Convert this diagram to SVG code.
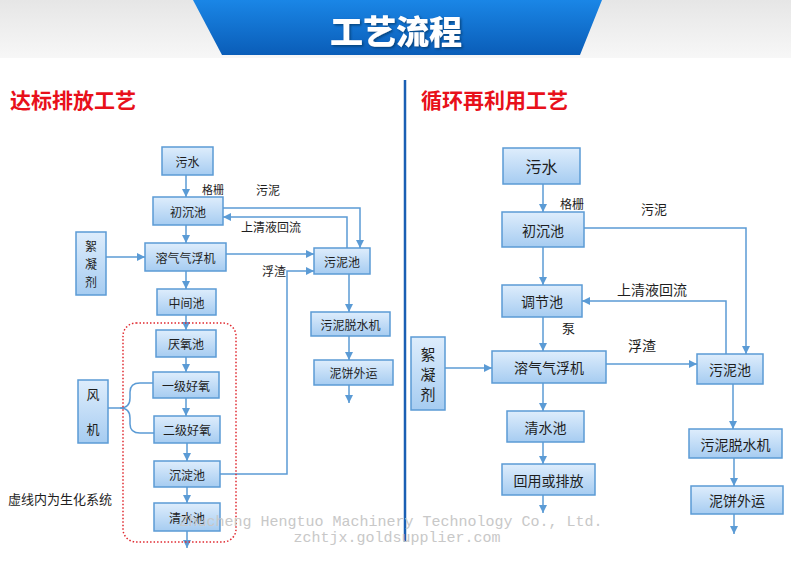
<svg xmlns="http://www.w3.org/2000/svg" width="791" height="571" viewBox="0 0 791 571">
<defs>
<linearGradient id="hdr" x1="0" y1="0" x2="0" y2="1"><stop offset="0" stop-color="#e6e6e6"/><stop offset="1" stop-color="#f7f7f7"/></linearGradient>
<linearGradient id="ban" x1="0" y1="0" x2="0" y2="1"><stop offset="0" stop-color="#1a86e6"/><stop offset="1" stop-color="#0a5db8"/></linearGradient>
<linearGradient id="bx" x1="0" y1="0" x2="0" y2="1"><stop offset="0" stop-color="#deedfc"/><stop offset="1" stop-color="#a6ccf1"/></linearGradient>
<filter id="sh" x="-10%" y="-20%" width="130%" height="150%"><feDropShadow dx="1.5" dy="1.5" stdDeviation="0.8" flood-color="#03305f" flood-opacity="0.7"/></filter>
<marker id="ar" viewBox="0 0 10 10" refX="10" refY="5" markerWidth="8" markerHeight="8" markerUnits="userSpaceOnUse" orient="auto"><path d="M0,0 L10,5 L0,10 z" fill="#5b9bd5"/></marker>
<style>
.box{fill:url(#bx);stroke:#5b9bd5;stroke-width:1.5}
.t{font-family:"Noto Sans CJK SC","Noto Sans",sans-serif;fill:#1e1e1e;text-anchor:middle;dominant-baseline:central}
.l12{font-size:12px}
.l14{font-size:14px}
.lab{font-family:"Noto Sans CJK SC","Noto Sans",sans-serif;fill:#1e1e1e;dominant-baseline:central}
.c{fill:none;stroke:#5b9bd5;stroke-width:1.5}
.ca{fill:none;stroke:#5b9bd5;stroke-width:1.5;marker-end:url(#ar)}
.h{font-family:"Noto Sans CJK SC","Noto Sans",sans-serif;font-weight:bold;font-size:21px;fill:#e8101a}
.wm{font-family:"Liberation Mono",monospace;font-size:15px;fill:#c8c8c8;text-anchor:middle}
</style>
</defs>
<rect x="0" y="0" width="791" height="571" fill="#ffffff"/>
<rect x="0" y="0" width="791" height="58" fill="url(#hdr)"/>
<polygon points="193,0 602,0 580,55 222,55" fill="url(#ban)"/>
<text x="396" y="30" font-family="'Noto Sans CJK SC',sans-serif" font-weight="900" font-size="33" fill="#ffffff" text-anchor="middle" dominant-baseline="central" filter="url(#sh)">工艺流程</text>
<line x1="405" y1="80" x2="405" y2="542" stroke="#1a5fb4" stroke-width="2.5"/>
<text class="h" x="10" y="108">达标排放工艺</text>
<text class="h" x="421" y="108">循环再利用工艺</text>

<g id="connectors">
<path class="ca" d="M186,175 V197"/>
<path class="ca" d="M186,225 V243"/>
<path class="ca" d="M186,271 V289"/>
<path class="ca" d="M186,315 V330"/>
<path class="ca" d="M186,357 V372"/>
<path class="ca" d="M186,398 V416"/>
<path class="ca" d="M187,443 V461"/>
<path class="ca" d="M187,487 V503"/>
<path class="ca" d="M187,531 V548"/>
<path class="ca" d="M223,208 H360 V248"/>
<path class="ca" d="M347,248 V217 H223"/>
<path class="ca" d="M226,254 H314"/>
<path class="ca" d="M220,474 H287 V271 H314"/>
<path class="ca" d="M106,257 H145"/>
<path class="ca" d="M349,274 V312"/>
<path class="ca" d="M349,336 V360"/>
<path class="ca" d="M349,385 V403"/>
<path class="c" d="M108,408 H120 Q130,408 130,398 V392 Q130,383 140,383 H153"/>
<path class="c" d="M120,408 Q130,408 130,418 V424 Q130,433 140,433 H154"/>
<path class="ca" d="M543,184 V212"/>
<path class="ca" d="M543,247 V285"/>
<path class="ca" d="M543,317 V351"/>
<path class="ca" d="M543,383 V411"/>
<path class="ca" d="M543,442 V464"/>
<path class="ca" d="M543,495 V513"/>
<path class="ca" d="M584,228 H746 V354"/>
<path class="ca" d="M726,354 V301 H582"/>
<path class="ca" d="M445,368 H492"/>
<path class="ca" d="M606,364 H697"/>
<path class="ca" d="M733,384 V429"/>
<path class="ca" d="M734,458 V486"/>
<path class="ca" d="M734,514 V534"/>
</g>

<rect x="123" y="323" width="113" height="219" rx="13" fill="none" stroke="#e0282f" stroke-width="1.5" stroke-dasharray="1.5,2"/>

<g id="L-wushui"><rect class="box" x="162" y="147" width="51" height="28"/><text class="t l12" x="187.5" y="161">污水</text></g>
<g id="L-chuchen"><rect class="box" x="153" y="197" width="70" height="28"/><text class="t l12" x="188" y="211">初沉池</text></g>
<g id="L-rongqi"><rect class="box" x="145" y="243" width="81" height="28"/><text class="t l12" x="185.5" y="257">溶气气浮机</text></g>
<g id="L-zhongjian"><rect class="box" x="157" y="289" width="59" height="26"/><text class="t l12" x="186.5" y="302">中间池</text></g>
<g id="L-yanyang"><rect class="box" x="156" y="330" width="60" height="27"/><text class="t l12" x="186" y="343.5">厌氧池</text></g>
<g id="L-yiji"><rect class="box" x="153" y="372" width="66" height="26"/><text class="t l12" x="186" y="385">一级好氧</text></g>
<g id="L-erji"><rect class="box" x="154" y="416" width="66" height="27"/><text class="t l12" x="187" y="429.5">二级好氧</text></g>
<g id="L-chendian"><rect class="box" x="154" y="461" width="66" height="26"/><text class="t l12" x="187" y="474">沉淀池</text></g>
<g id="L-qingshui"><rect class="box" x="154" y="503" width="66" height="28"/><text class="t l12" x="187" y="517">清水池</text></g>
<g id="L-wunichi"><rect class="box" x="314" y="248" width="56" height="26"/><text class="t l12" x="342" y="261">污泥池</text></g>
<g id="L-tuoshui"><rect class="box" x="311" y="312" width="79" height="24"/><text class="t l12" x="350.5" y="324">污泥脱水机</text></g>
<g id="L-nibing"><rect class="box" x="314" y="360" width="79" height="25"/><text class="t l12" x="353.5" y="372.5">泥饼外运</text></g>
<g id="L-xuning"><rect class="box" x="76" y="232" width="30" height="63"/><text class="t" font-size="12" x="91" y="245.5">絮<tspan x="91" dy="17.6">凝</tspan><tspan x="91" dy="17.6">剂</tspan></text></g>
<g id="L-fengji"><rect class="box" x="78" y="380" width="30" height="63"/><text class="t" font-size="13" x="93" y="393">风</text><text class="t" font-size="13" x="93" y="428">机</text></g>

<text class="lab" font-size="11" x="202" y="189">格栅</text>
<text class="lab" font-size="12" x="256" y="189">污泥</text>
<text class="lab" font-size="12" x="241" y="226">上清液回流</text>
<text class="lab" font-size="12" x="262" y="270">浮渣</text>
<text class="lab" font-size="13" x="8" y="498">虚线内为生化系统</text>

<g id="R-wushui"><rect class="box" x="503" y="148" width="77" height="36"/><text class="t" font-size="16" x="541.5" y="166">污水</text></g>
<g id="R-chuchen"><rect class="box" x="502" y="212" width="82" height="35"/><text class="t l14" x="543" y="229.5">初沉池</text></g>
<g id="R-tiaojie"><rect class="box" x="502" y="285" width="80" height="32"/><text class="t l14" x="542" y="301">调节池</text></g>
<g id="R-rongqi"><rect class="box" x="492" y="351" width="114" height="32"/><text class="t l14" x="549" y="367">溶气气浮机</text></g>
<g id="R-qingshui"><rect class="box" x="507" y="411" width="77" height="31"/><text class="t l14" x="545.5" y="426.5">清水池</text></g>
<g id="R-huiyong"><rect class="box" x="502" y="464" width="93" height="31"/><text class="t l14" x="548.5" y="479.5">回用或排放</text></g>
<g id="R-wunichi"><rect class="box" x="697" y="354" width="66" height="30"/><text class="t l14" x="730" y="369">污泥池</text></g>
<g id="R-tuoshui"><rect class="box" x="689" y="429" width="93" height="29"/><text class="t l14" x="735.5" y="443.5">污泥脱水机</text></g>
<g id="R-nibing"><rect class="box" x="691" y="486" width="92" height="28"/><text class="t l14" x="737" y="500">泥饼外运</text></g>
<g id="R-xuning"><rect class="box" x="411" y="337" width="34" height="73"/><text class="t" font-size="15" x="428" y="353">絮<tspan x="428" dy="20">凝</tspan><tspan x="428" dy="20">剂</tspan></text></g>

<text class="lab" font-size="12" x="560" y="203">格栅</text>
<text class="lab" font-size="13" x="641" y="208">污泥</text>
<text class="lab" font-size="14" x="617" y="289">上清液回流</text>
<text class="lab" font-size="13" x="562" y="327">泵</text>
<text class="lab" font-size="14" x="628" y="345">浮渣</text>

<text class="wm" x="391" y="526">Zhucheng Hengtuo Machinery Technology Co., Ltd.</text>
<text class="wm" x="397" y="542">zchtjx.goldsupplier.com</text>
</svg>
